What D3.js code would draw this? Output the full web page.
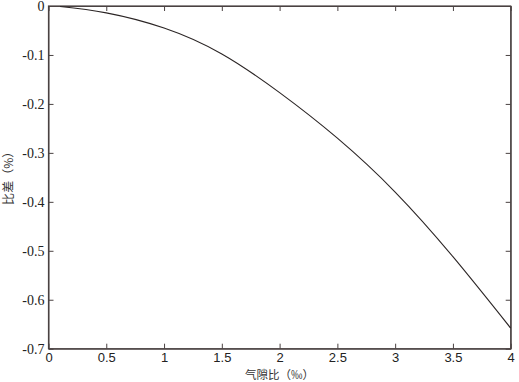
<!DOCTYPE html>
<html>
<head>
<meta charset="utf-8">
<script src="https://cdn.jsdelivr.net/npm/d3@7"></script>
<style>
  body { margin: 0; background: #fff; }
  .lab { font-family: "Noto Sans CJK SC", sans-serif; font-size: 12px; fill: #333; }
</style>
</head>
<body>
<div id="chart"></div>
<script>
// air gap ratio (‰) and ratio error (%)
var gapRatio = [0.1, 0.5, 1.0, 1.5, 2.0, 2.5, 3.0, 3.5, 4.0];
var ratioError = [-0.001, -0.014, -0.045, -0.098, -0.177, -0.270, -0.380, -0.512, -0.658];

var xTicks = [0, 0.5, 1, 1.5, 2, 2.5, 3, 3.5, 4];
var yTicks = [0, -0.1, -0.2, -0.3, -0.4, -0.5, -0.6, -0.7];

var svgWidth = 519, svgHeight = 382;
var margin = { top: 6, right: 8.3, bottom: 33.3, left: 48.5 };
var width = svgWidth - margin.left - margin.right;
var height = svgHeight - margin.top - margin.bottom;
var axisColor = "#4a4242";

var svg = d3.select("#chart").append("svg")
    .attr("width", svgWidth)
    .attr("height", svgHeight);

var g = svg.append("g")
    .attr("transform", `translate(${margin.left}, ${margin.top})`);

var xScale = d3.scaleLinear().domain([0, 4]).range([0, width]);
var yScale = d3.scaleLinear().domain([-0.7, 0]).range([height, 0]);

// ticks on all four sides, pointing inward
var bottomAxis = d3.axisBottom(xScale).tickValues(xTicks).tickSizeInner(-5).tickSizeOuter(0)
    .tickPadding(4).tickFormat(d => d);
var topAxis = d3.axisTop(xScale).tickValues(xTicks).tickSizeInner(-5).tickSizeOuter(0).tickFormat("");
var leftAxis = d3.axisLeft(yScale).tickValues(yTicks).tickSizeInner(-5).tickSizeOuter(0)
    .tickPadding(4).tickFormat(d => d);
var rightAxis = d3.axisRight(yScale).tickValues(yTicks).tickSizeInner(-5).tickSizeOuter(0).tickFormat("");

var xAxisG = g.append("g").attr("transform", `translate(0, ${height})`).call(bottomAxis);
g.append("g").call(topAxis);
var yAxisG = g.append("g").call(leftAxis);
g.append("g").attr("transform", `translate(${width}, 0)`).call(rightAxis);

g.selectAll(".domain, .tick line").attr("stroke", axisColor).attr("stroke-width", 1);

xAxisG.selectAll(".tick text")
    .style("font-family", "'Liberation Sans Narrow', 'Liberation Sans', sans-serif")
    .style("font-size", "13px")
    .style("font-stretch", "condensed")
    .attr("fill", "#222");

yAxisG.selectAll(".tick text")
    .style("font-family", "'Liberation Serif', 'DejaVu Serif', serif")
    .style("font-size", "14px")
    .attr("fill", "#222")
    .attr("dy", "0.32em");

// frame
g.append("rect")
    .attr("width", width).attr("height", height)
    .attr("fill", "none").attr("stroke", axisColor).attr("stroke-width", 1.2);

var line = d3.line()
    .x((d, i) => xScale(gapRatio[i]))
    .y(d => yScale(d))
    .curve(d3.curveNatural);

g.append("path")
    .datum(ratioError)
    .attr("fill", "none")
    .attr("stroke", "#2b2525")
    .attr("stroke-width", 1.1)
    .attr("d", line);

// axis labels
g.append("text")
    .attr("class", "lab")
    .attr("x", width / 2)
    .attr("y", height + 30)
    .attr("text-anchor", "middle")
    .style("font-size", "11.5px")
    .text("气隙比（‰）");

g.append("text")
    .attr("class", "lab")
    .attr("transform", "rotate(-90)")
    .attr("x", -height / 2 + 2)
    .attr("y", -36)
    .attr("text-anchor", "middle")
    .text("比差（%）");
</script>
</body>
</html>
